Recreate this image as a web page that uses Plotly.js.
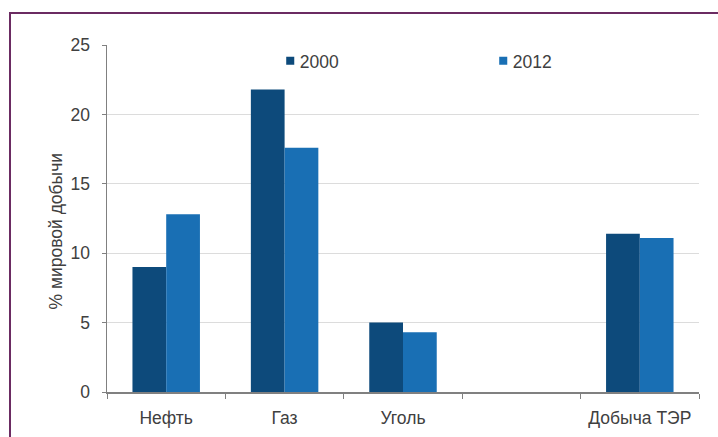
<!DOCTYPE html>
<html>
<head>
<meta charset="utf-8">
<script src="https://cdn.plot.ly/plotly-3.0.1.min.js"></script>
<style>
  html, body { margin: 0; padding: 0; background: #ffffff; }
  #wrap { position: relative; width: 718px; height: 437px; overflow: hidden; }
  #frame { position: absolute; left: 9px; top: 12px; width: 760px; height: 480px;
           border-top: 2px solid #6b2b62; border-left: 2px solid #6b2b62; box-sizing: border-box;
           pointer-events: none; z-index: 5; }
  #chart { position: absolute; left: 0; top: 0; width: 718px; height: 437px; }
  /* small square swatches set close to the legend text */
  #chart .legend .legendpoints path { transform: translate(30.5px, 0) scale(0.67); }
</style>
</head>
<body>
<div id="wrap">
  <div id="chart"></div>
  <div id="frame"></div>
</div>
<script>
// Доля России в мировой добыче, %
const categories = ['Нефть', 'Газ', 'Уголь', ' ', 'Добыча ТЭР'];
const values2000 = [9.0, 21.8, 5.0, null, 11.4];
const values2012 = [12.8, 17.6, 4.3, null, 11.1];
const seriesNames = ['2000', '2012'];
const yTicks = [0, 5, 10, 15, 20, 25];
const yTitle = '% мировой добычи';

const font = { family: 'Liberation Sans, Arial, sans-serif', size: 17.5, color: '#404040' };

const traces = [
  { type: 'bar', name: seriesNames[0], x: categories, y: values2000,
    marker: { color: '#0d4a7b' }, hoverinfo: 'x+y' },
  { type: 'bar', name: seriesNames[1], x: categories, y: values2012,
    marker: { color: '#196fb4' }, hoverinfo: 'x+y' }
];

const layout = {
  width: 718, height: 437,
  margin: { l: 107, r: 19, t: 45, b: 45 },
  paper_bgcolor: '#ffffff', plot_bgcolor: '#ffffff',
  font: font,
  barmode: 'group',
  bargap: 0.43, bargroupgap: 0,
  showlegend: true,
  legend: {
    orientation: 'h', x: 0.258, y: 1.006, xanchor: 'left', yanchor: 'top',
    font: font, entrywidth: 168, entrywidthmode: 'pixels',
    itemwidth: 30, bgcolor: 'rgba(0,0,0,0)', traceorder: 'normal'
  },
  xaxis: {
    type: 'category', tickson: 'boundaries', ticks: 'outside', ticklen: 5,
    tickcolor: '#808080', showline: true, linecolor: '#808080', linewidth: 1.5,
    showgrid: false, tickfont: font, ticklabelstandoff: 9, fixedrange: true
  },
  yaxis: {
    range: [0, 25], tickvals: yTicks, ticks: 'outside', ticklen: 4,
    tickcolor: '#808080', showline: true, linecolor: '#808080', linewidth: 1.5,
    showgrid: true, gridcolor: '#dcdcdc', gridwidth: 1, zeroline: false,
    tickfont: font, ticklabelstandoff: 8, fixedrange: true
  },
  annotations: [{
    text: yTitle, textangle: -90, showarrow: false, font: font,
    xref: 'paper', yref: 'paper', x: -0.0878, y: 0.4625,
    xanchor: 'center', yanchor: 'middle'
  }]
};

Plotly.newPlot('chart', traces, layout, { staticPlot: true, displayModeBar: false });
</script>
</body>
</html>
